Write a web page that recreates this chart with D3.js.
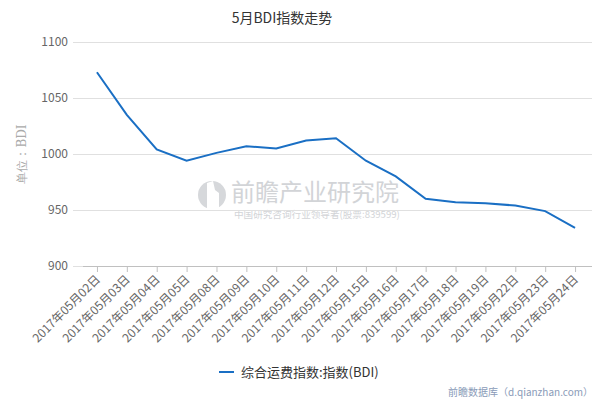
<!DOCTYPE html>
<html><head><meta charset="utf-8">
<script src="https://cdn.jsdelivr.net/npm/d3@7"></script>
<style>body{margin:0;background:#fff}svg{display:block}</style>
</head><body>
<svg id="c" width="600" height="400"></svg>
<script>
const categories = ["2017年05月02日","2017年05月03日","2017年05月04日","2017年05月05日","2017年05月08日","2017年05月09日","2017年05月10日","2017年05月11日","2017年05月12日","2017年05月15日","2017年05月16日","2017年05月17日","2017年05月18日","2017年05月19日","2017年05月22日","2017年05月23日","2017年05月24日"];
const bdiValues = [1073,1035,1004,994,1001,1007,1005,1012,1014,994,980,960,957,956,954,949,934];
const yTicks = [900,950,1000,1050,1100];
const titleText = "5月BDI指数走势";
const yTitle = "单位：BDI";
const seriesName = "综合运费指数:指数(BDI)";
const creditText = "前瞻数据库（d.qianzhan.com）";

const svg = d3.select("#c");
const font = "'Noto Sans CJK SC','Noto Sans',sans-serif";
const L = 73, R = 592, T = 42, B = 266;
const x = d3.scalePoint().domain(categories).range([82, 590]).padding(0.5);
const y = d3.scaleLinear().domain([900,1100]).range([B, T]);

// watermark
const wm = svg.append("g").attr("fill","#d4d6d9");
wm.append("circle").attr("cx",212).attr("cy",195).attr("r",14).attr("fill","#d6d8db");
wm.append("path").attr("d","M207,183 L213,181 L215,190 L219,193 L219,209 L207,209 Z").attr("fill","#fff");
wm.append("text").attr("x",231).attr("y",201).attr("font-size",24).attr("font-family",font).attr("fill","#d2d4d7").text("前瞻产业研究院");
wm.append("text").attr("x",234).attr("y",218).attr("font-size",9.6).attr("font-family",font).attr("fill","#d2d4d7").text("中国研究咨询行业领导者(股票:839599)");

// grid
svg.append("g").selectAll("line").data(yTicks.filter(d=>d!==900)).join("line")
  .attr("x1",L).attr("x2",R).attr("y1",d=>y(d)+0.5).attr("y2",d=>y(d)+0.5)
  .attr("stroke","#e0e0e0").attr("stroke-width",1);
svg.append("line").attr("x1",L).attr("x2",83).attr("y1",B+0.5).attr("y2",B+0.5).attr("stroke","#e0e0e0");

// y labels
svg.append("g").selectAll("text").data(yTicks).join("text")
  .attr("x",68).attr("y",d=>y(d)+4).attr("text-anchor","end")
  .attr("font-size",12).attr("font-family",font).attr("fill","#666").text(d=>d);

// y title
svg.append("text").attr("transform","translate(26,154) rotate(-90)").attr("text-anchor","middle")
  .attr("font-size",12).attr("font-family","'DejaVu Serif',serif").attr("fill","#aaa").text(yTitle);

// x axis
const xa = svg.append("g").attr("transform",`translate(0,${B})`)
  .call(d3.axisBottom(x).tickSize(6).tickSizeOuter(0).tickFormat(""));
xa.select(".domain").attr("d",`M83,0.5H${R}`).attr("stroke","#c0c0c0");
xa.selectAll(".tick line").attr("stroke","#c0c0c0");
svg.append("g").selectAll("text").data(categories).join("text")
  .attr("transform",d=>`translate(${x(d)+4},${B+14}) rotate(-45)`)
  .attr("text-anchor","end").attr("font-size",12).attr("font-family",font).attr("fill","#666").text(d=>d);

// line
svg.append("path").datum(bdiValues)
  .attr("d",d3.line().x((d,i)=>x(categories[i])).y(d=>y(d)))
  .attr("fill","none").attr("stroke","#1a6fc4").attr("stroke-width",2);

// title
svg.append("text").attr("x",282).attr("y",23).attr("text-anchor","middle")
  .attr("font-size",14).attr("font-family",font).attr("fill","#333").text(titleText);

// legend
svg.append("line").attr("x1",219).attr("x2",234).attr("y1",372).attr("y2",372).attr("stroke","#1a6fc4").attr("stroke-width",2);
svg.append("text").attr("x",241).attr("y",377).attr("font-size",13).attr("font-family",font).attr("fill","#333").text(seriesName);

// credit
svg.append("text").attr("x",593).attr("y",396).attr("text-anchor","end").attr("font-size",10).attr("font-family",font).attr("fill","#8a9bb8").text(creditText);
</script>
</body></html>
